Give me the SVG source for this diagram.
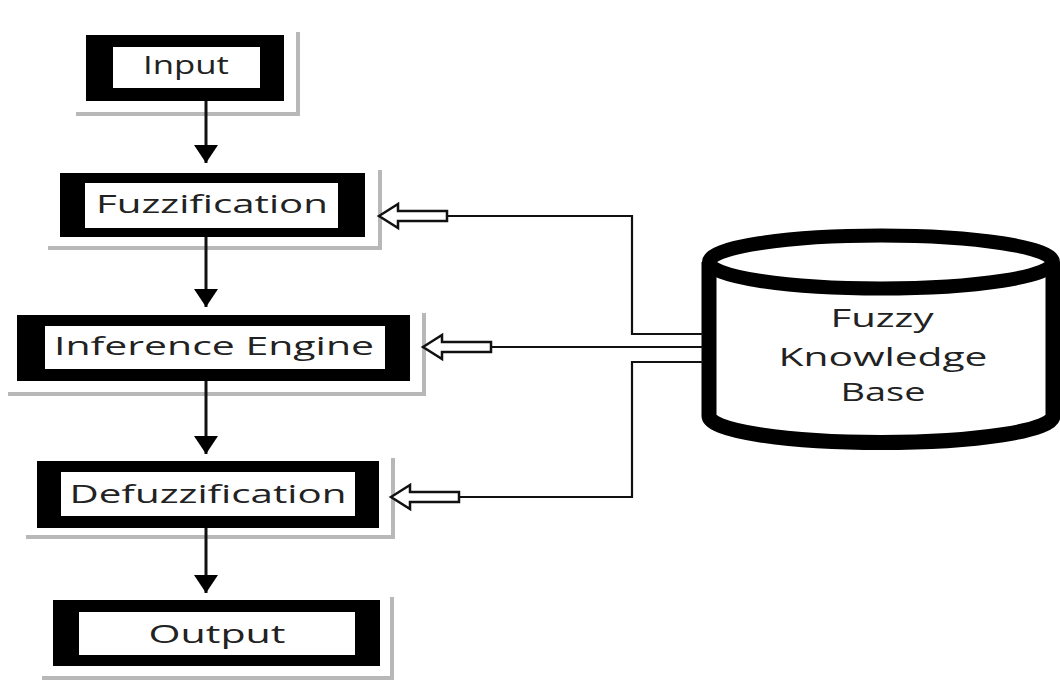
<svg xmlns="http://www.w3.org/2000/svg" width="1060" height="684" viewBox="0 0 1060 684">
  <style>
    .outer { fill: #000; }
    .inner { fill: #fff; }
    .shadow { fill: none; stroke: #b8b8b8; stroke-width: 4; }
    .label { font-family: "Open Sans", Lato, "Liberation Sans", sans-serif; font-size: 26px; fill: #222; text-anchor: middle; }
    .flow { stroke: #111; stroke-width: 3; fill: none; }
    .link { stroke: #111; stroke-width: 2.2; fill: none; }
    .hollow { fill: #fff; stroke: #111; stroke-width: 2.5; stroke-linejoin: miter; }
  </style>
  <defs>
    <marker id="head" viewBox="0 -12 18 24" refX="18" refY="0" markerWidth="18" markerHeight="24" markerUnits="userSpaceOnUse" orient="auto">
      <path d="M0,-12 L18,0 L0,12 Z" fill="#000"/>
    </marker>
    <path id="hollowArrow" class="hollow" d="M0,0 L19,-12 L19,-5 L68,-5 L68,5 L19,5 L19,12 Z"/>
  </defs>
  <rect width="1060" height="684" fill="#fff"/>

  <g id="input">
    <polyline class="shadow" points="76,114 298,114 298,32"/>
    <rect class="outer" x="86" y="35" width="198" height="66"/>
    <rect class="inner" x="113" y="47" width="147" height="41"/>
    <text class="label" x="186" y="74" textLength="86" lengthAdjust="spacingAndGlyphs">Input</text>
  </g>

  <g id="fuzzification">
    <polyline class="shadow" points="48,248 380,248 380,170"/>
    <rect class="outer" x="60" y="173" width="305" height="64"/>
    <rect class="inner" x="85" y="183" width="253" height="45"/>
    <text class="label" x="212" y="213" textLength="232" lengthAdjust="spacingAndGlyphs">Fuzzification</text>
  </g>

  <g id="inference-engine">
    <polyline class="shadow" points="8,394 424,394 424,313"/>
    <rect class="outer" x="17" y="315" width="393" height="66"/>
    <rect class="inner" x="45" y="326" width="340" height="43"/>
    <text class="label" x="214" y="355" textLength="320" lengthAdjust="spacingAndGlyphs">Inference Engine</text>
  </g>

  <g id="defuzzification">
    <polyline class="shadow" points="26,537 393,537 393,458"/>
    <rect class="outer" x="37" y="461" width="342" height="67"/>
    <rect class="inner" x="61" y="472" width="294" height="44"/>
    <text class="label" x="208" y="503" textLength="277" lengthAdjust="spacingAndGlyphs">Defuzzification</text>
  </g>

  <g id="output">
    <polyline class="shadow" points="42,678 392,678 392,597"/>
    <rect class="outer" x="53" y="600" width="327" height="66"/>
    <rect class="inner" x="79" y="612" width="276" height="43"/>
    <text class="label" x="217" y="643" textLength="137" lengthAdjust="spacingAndGlyphs">Output</text>
  </g>

  <g id="fuzzy-knowledge-base">
    <path d="M709,262 L709,416 A172,26.5 0 0 0 1053,416 L1053,262" fill="#fff" stroke="#000" stroke-width="15"/>
    <ellipse cx="881" cy="262" rx="172" ry="26.5" fill="#fff" stroke="#000" stroke-width="14"/>
    <text class="label" x="882" y="327" textLength="103" lengthAdjust="spacingAndGlyphs">Fuzzy</text>
    <text class="label" x="883" y="366" textLength="209" lengthAdjust="spacingAndGlyphs">Knowledge</text>
    <text class="label" x="883" y="401" textLength="85" lengthAdjust="spacingAndGlyphs">Base</text>
  </g>

  <g id="connectors">
    <line class="flow" x1="206" y1="101" x2="206" y2="163" marker-end="url(#head)"/>
    <line class="flow" x1="206" y1="237" x2="206" y2="307" marker-end="url(#head)"/>
    <line class="flow" x1="206" y1="381" x2="206" y2="454" marker-end="url(#head)"/>
    <line class="flow" x1="206" y1="528" x2="206" y2="593" marker-end="url(#head)"/>

    <polyline class="link" points="447,216 632,216 632,334 703,334"/>
    <line class="link" x1="490" y1="347" x2="703" y2="347"/>
    <polyline class="link" points="458,497 632,497 632,362 703,362"/>

    <use href="#hollowArrow" transform="translate(379,216)"/>
    <use href="#hollowArrow" transform="translate(423,347)"/>
    <use href="#hollowArrow" transform="translate(391,497)"/>
  </g>
</svg>
